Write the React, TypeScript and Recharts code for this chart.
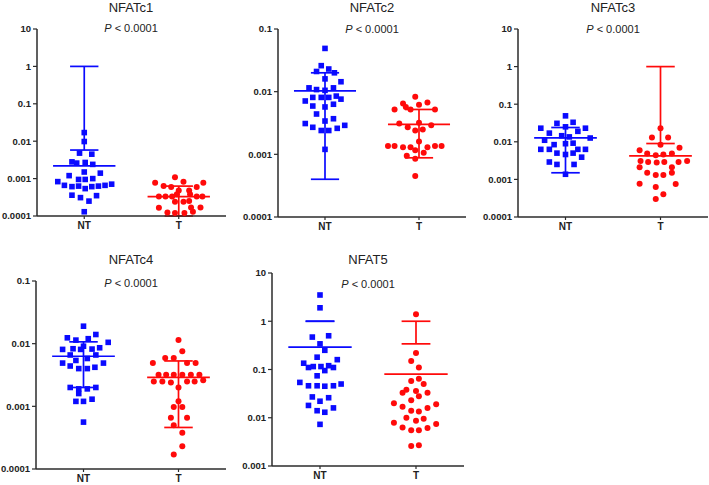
import React from 'react'
import { ScatterChart, Scatter, XAxis, YAxis, ReferenceLine } from 'recharts'

const BLUE = '#0a0aff'
const RED = '#ff0a0a'
const AXIS = '#2b2b2b'
const FONT = 'Arial, "Liberation Sans", Helvetica, sans-serif'

// each point: [horizontal jitter around the group, value]
const c1NT = [[0,0.017],[0,0.0098],[-0.05,0.0048],[0.08,0.0045],[-0.13,0.0028],[-0.08,0.0026],[0.01,0.0027],[0.09,0.0024],[0,0.0015],[-0.16,0.0012],[0.17,0.0014],[-0.06,0.00095],[0.01,0.00095],[0.09,0.001],[-0.28,0.00083],[-0.21,0.00066],[-0.13,0.00061],[-0.06,0.00063],[0.01,0.00054],[0.08,0.00061],[0.15,0.00063],[0.22,0.00066],[0.29,0.00071],[-0.13,0.00036],[-0.04,0.00031],[0.13,0.00035],[0.05,0.00025],[0,0.00013]]
const c1T = [[-0.04,0.00108],[-0.25,0.00078],[0.05,0.00083],[0.26,0.00078],[-0.16,0.00063],[-0.08,0.0006],[0.19,0.0006],[0,0.00048],[0.11,0.00048],[-0.21,0.00033],[-0.14,0.00033],[-0.07,0.00033],[-0.02,0.00038],[0.12,0.00038],[0.19,0.00033],[0.25,0.00033],[-0.04,0.00024],[0.05,0.00024],[0.11,0.00025],[-0.21,0.000167],[0.13,0.00017],[0.23,0.00017],[-0.12,0.000125],[-0.04,0.00012],[0.06,0.00012],[0.15,0.00013]]
const c2NT = [[0,0.049],[-0.04,0.026],[0.04,0.023],[-0.09,0.021],[0.1,0.02],[0,0.016],[0.17,0.0144],[-0.17,0.0115],[-0.09,0.0108],[0.09,0.0115],[0,0.0105],[-0.21,0.0071],[-0.13,0.0081],[-0.04,0.0081],[0.04,0.0081],[0.12,0.0085],[0.17,0.0076],[-0.13,0.0059],[0,0.0057],[0.09,0.0063],[-0.09,0.0044],[0,0.0034],[0.09,0.0037],[-0.21,0.0031],[-0.13,0.0027],[-0.04,0.0024],[0.04,0.0024],[0.13,0.0026],[0.21,0.0029],[0,0.0012]]
const c2T = [[-0.04,0.0083],[-0.17,0.0065],[0.09,0.0067],[-0.26,0.0052],[-0.14,0.0057],[0,0.0062],[0.17,0.0052],[-0.09,0.0052],[-0.21,0.0031],[-0.12,0.0027],[0,0.0032],[0.13,0.0029],[-0.04,0.0024],[0.04,0.0025],[0,0.0016],[-0.33,0.00136],[-0.26,0.00136],[-0.17,0.0013],[-0.09,0.0013],[0.09,0.0013],[0.17,0.00136],[0.24,0.00136],[-0.04,0.00116],[0.05,0.00106],[-0.13,0.00095],[-0.04,0.00085],[-0.04,0.00045]]
const c3NT = [[0,0.049],[-0.09,0.031],[0.08,0.033],[0,0.025],[-0.26,0.023],[0.21,0.023],[-0.17,0.017],[0.13,0.019],[-0.04,0.0145],[0.04,0.0135],[0.26,0.0126],[-0.22,0.011],[-0.12,0.0084],[0,0.0089],[0.08,0.0092],[-0.26,0.0063],[-0.17,0.0063],[0.13,0.0063],[0.21,0.0063],[-0.09,0.005],[0,0.0046],[0.08,0.005],[0.17,0.0039],[-0.17,0.0029],[-0.09,0.0025],[0.09,0.0025],[0,0.00137]]
const c3T = [[0,0.023],[-0.09,0.013],[0.08,0.013],[0,0.0084],[-0.22,0.006],[0.2,0.0069],[-0.14,0.0049],[-0.05,0.0044],[0.03,0.0046],[0.12,0.0049],[-0.21,0.0031],[-0.13,0.0029],[-0.04,0.0028],[0.04,0.0029],[0.19,0.0029],[0.28,0.0031],[-0.22,0.0021],[0.12,0.0021],[-0.14,0.0015],[-0.05,0.0013],[0.03,0.0013],[0.12,0.0015],[-0.22,0.00077],[-0.05,0.00063],[0.16,0.00075],[0.03,0.0004],[-0.05,0.0003]]
const c4NT = [[0,0.019],[0.13,0.014],[-0.17,0.0124],[-0.08,0.0114],[0.05,0.012],[0.26,0.0105],[0,0.0091],[-0.22,0.0081],[-0.11,0.0083],[-0.03,0.0081],[0.09,0.0082],[0.17,0.0086],[-0.14,0.0066],[0.04,0.0058],[0.13,0.0066],[-0.08,0.0054],[-0.22,0.0049],[0.21,0.0049],[-0.14,0.0044],[-0.05,0.004],[0.04,0.004],[0.12,0.0042],[-0.14,0.002],[-0.05,0.0019],[0.04,0.0019],[0.13,0.002],[-0.05,0.0016],[-0.08,0.0012],[0,0.0012],[0.09,0.0013],[0,0.00056]]
const c4T = [[0,0.0114],[0.04,0.0076],[-0.14,0.0059],[-0.05,0.0059],[-0.27,0.0049],[0.09,0.0049],[0.18,0.0049],[-0.21,0.0032],[-0.13,0.0032],[-0.05,0.0032],[0.04,0.0032],[0.13,0.0032],[0.22,0.0032],[-0.26,0.0025],[-0.17,0.0025],[-0.08,0.0024],[0.09,0.0025],[0.17,0.0025],[0.26,0.0026],[0,0.002],[0,0.0012],[-0.05,0.00098],[0.04,0.00098],[-0.08,0.00066],[0.09,0.00066],[-0.05,0.0005],[0.04,0.00038],[0.04,0.00023],[-0.05,0.00017]]
const c5NT = [[0,3.5],[0,1.9],[-0.08,0.47],[0.09,0.5],[0,0.34],[0.05,0.25],[-0.03,0.18],[-0.17,0.135],[0.18,0.16],[-0.12,0.11],[-0.07,0.115],[0.01,0.115],[0.09,0.12],[0.14,0.11],[0.05,0.095],[-0.03,0.074],[-0.21,0.054],[-0.12,0.046],[-0.03,0.046],[0.05,0.045],[0.14,0.046],[0.22,0.05],[-0.08,0.027],[0.09,0.026],[0,0.022],[-0.12,0.018],[0.14,0.016],[-0.03,0.014],[0.05,0.013],[0,0.0073]]
const c5T = [[0,1.4],[0,0.22],[-0.05,0.15],[0.03,0.11],[-0.05,0.058],[0.03,0.064],[0.08,0.05],[-0.14,0.033],[-0.1,0.038],[0,0.036],[0.03,0.028],[0.12,0.033],[-0.05,0.023],[-0.23,0.02],[0.21,0.019],[-0.14,0.017],[-0.05,0.014],[0.03,0.0135],[0.12,0.016],[-0.1,0.01],[0,0.0087],[0.08,0.0095],[-0.23,0.0079],[0.21,0.0074],[-0.14,0.0063],[-0.05,0.0055],[0.03,0.0055],[0.12,0.0061],[-0.05,0.0026],[0.03,0.0027]]

// [centre line, bar low, bar high]
const c1NTBar = [0.0022, 0.0058, 1]
const c1TBar = [0.00033, 0.0001, 0.00063]
const c2NTBar = [0.0103, 0.0004, 0.02]
const c2TBar = [0.003, 0.00088, 0.0052]
const c3NTBar = [0.0127, 0.0015, 0.024]
const c3TBar = [0.0042, 0.009, 1]
const c4NTBar = [0.0063, 0.002, 0.0107]
const c4TBar = [0.0029, 0.00046, 0.0053]
const c5NTBar = [0.29, 1, 1]
const c5TBar = [0.08, 0.34, 1]

const groups = ['NT', 'T']
const ticksTo10 = [0.0001, 0.001, 0.01, 0.1, 1, 10]
const ticksTo01 = [0.0001, 0.001, 0.01, 0.1]
const ticks5 = [0.001, 0.01, 0.1, 1, 10]
const pText = '< 0.0001'

const panels = [
  { title: 'NFATc1', nt: c1NT, t: c1T, ntBar: c1NTBar, tBar: c1TBar, ticks: ticksTo10, left: 36.5, top: 29, w: 189, h: 187, titleY: 8, pY: 28 },
  { title: 'NFATc2', nt: c2NT, t: c2T, ntBar: c2NTBar, tBar: c2TBar, ticks: ticksTo01, left: 278, top: 29, w: 188, h: 188, titleY: 8, pY: 29 },
  { title: 'NFATc3', nt: c3NT, t: c3T, ntBar: c3NTBar, tBar: c3TBar, ticks: ticksTo10, left: 518, top: 29, w: 190, h: 188, titleY: 8, pY: 29 },
  { title: 'NFATc4', nt: c4NT, t: c4T, ntBar: c4NTBar, tBar: c4TBar, ticks: ticksTo01, left: 36, top: 281, w: 190, h: 188, titleY: 260, pY: 283 },
  { title: 'NFAT5', nt: c5NT, t: c5T, ntBar: c5NTBar, tBar: c5TBar, ticks: ticks5, left: 272, top: 273, w: 192, h: 193, titleY: 260, pY: 284 },
]

const Square = (props: any) => (
  <rect x={props.cx - 2.8} y={props.cy - 2.8} width={5.6} height={5.6} fill={BLUE} />
)
const Dot = (props: any) => <circle cx={props.cx} cy={props.cy} r={3} fill={RED} />

function bars(center: number, bar: number[], color: string, key: string) {
  const [mid, lo, hi] = bar
  const seg = (x1: number, y1: number, x2: number, y2: number, k: string) => (
    <ReferenceLine key={key + k} segment={[{ x: x1, y: y1 }, { x: x2, y: y2 }]}
      stroke={color} strokeWidth={1.7} ifOverflow="visible" />
  )
  return [
    seg(center - 0.33, mid, center + 0.33, mid, 'm'),
    seg(center, lo, center, hi, 'v'),
    seg(center - 0.15, lo, center + 0.15, lo, 'l'),
    seg(center - 0.15, hi, center + 0.15, hi, 'h'),
  ]
}

function Panel({ p }: { p: any }) {
  const mL = 40, mT = 30, xH = 24
  const W = mL + p.w
  const H = mT + p.h + xH
  const toPts = (arr: number[][], c: number) => arr.map(([dx, v]) => ({ x: c + dx, y: v }))
  return (
    <>
      <div style={{ position: 'absolute', left: p.left, width: p.w, top: p.titleY - 8, lineHeight: '16px',
        textAlign: 'center', fontSize: 13, color: '#222' }}>{p.title}</div>
      <div style={{ position: 'absolute', left: p.left, width: p.w, top: p.pY - 7, lineHeight: '14px',
        textAlign: 'center', fontSize: 11, color: '#222' }}><i>P</i> {pText}</div>
      <div style={{ position: 'absolute', left: p.left - mL, top: p.top - mT }}>
        <ScatterChart width={W} height={H} margin={{ top: mT, right: 0, left: 0, bottom: 0 }}>
          <XAxis type="number" dataKey="x" domain={[0.5, 2.5]} ticks={[1, 2]} height={xH}
            tickFormatter={(v: number) => groups[v - 1]} allowDataOverflow
            axisLine={{ stroke: AXIS, strokeWidth: 1.5 }} tickLine={{ stroke: AXIS, strokeWidth: 1.2 }}
            tickSize={3} tickMargin={3} tick={{ fontSize: 10, fontWeight: 'bold', fill: '#222' }} />
          <YAxis type="number" dataKey="y" scale="log" domain={[p.ticks[0], p.ticks[p.ticks.length - 1]]}
            ticks={p.ticks} allowDataOverflow width={mL} tickFormatter={(v: number) => String(v)}
            axisLine={{ stroke: AXIS, strokeWidth: 1.5 }} tickLine={{ stroke: AXIS, strokeWidth: 1.2 }}
            tickSize={4} tickMargin={2} tick={{ fontSize: 9.5, fontWeight: 'bold', fill: '#222' }} />
          <Scatter data={toPts(p.nt, 1)} shape={Square} isAnimationActive={false} />
          <Scatter data={toPts(p.t, 2)} shape={Dot} isAnimationActive={false} />
          {bars(1, p.ntBar, BLUE, 'nt')}
          {bars(2, p.tBar, RED, 't')}
        </ScatterChart>
      </div>
    </>
  )
}

export default function App() {
  return (
    <div style={{ position: 'absolute', left: 0, top: 0, width: 709, height: 485, overflow: 'hidden',
      background: '#fff', fontFamily: FONT }}>
      {panels.map((p) => <Panel key={p.title} p={p} />)}
    </div>
  )
}
